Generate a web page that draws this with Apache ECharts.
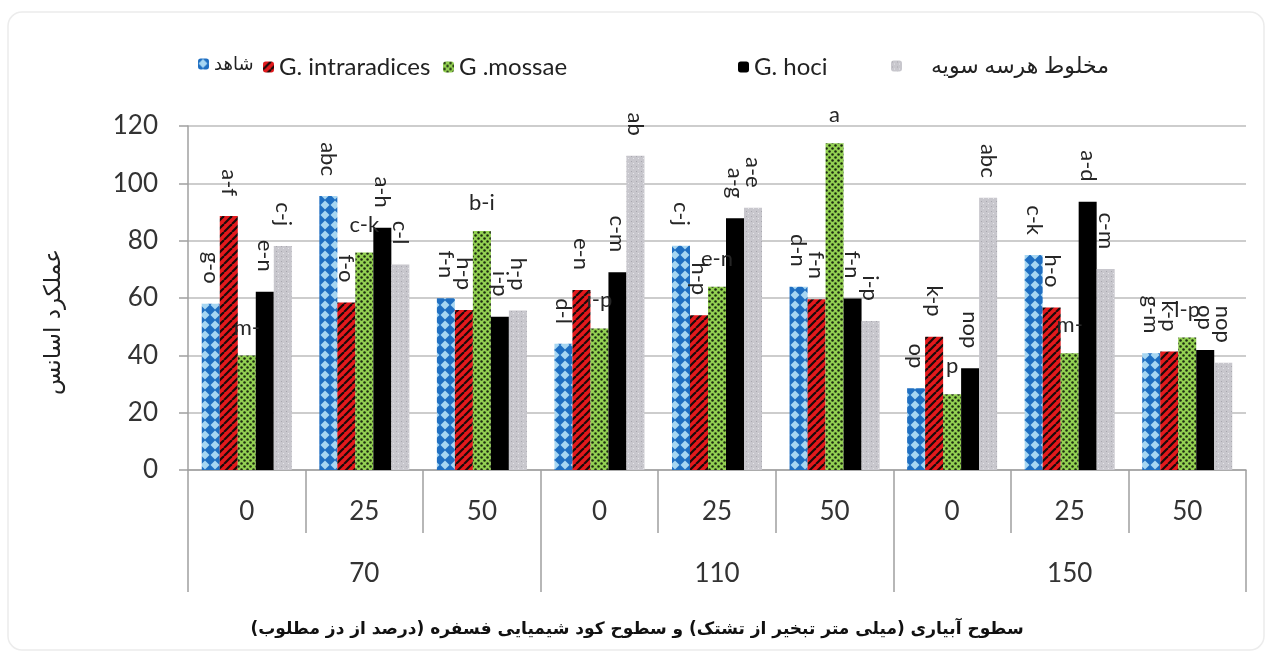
<!DOCTYPE html>
<html lang="fa">
<head>
    <meta charset="UTF-8">
    <title>عملکرد اسانس</title>
    <script src="https://cdn.jsdelivr.net/npm/echarts@6/dist/echarts.min.js"></script>
</head>
<style>
    *{
        margin: 0;
        padding: 0;
    }
    html , body{
        width: 1274px;
        height: 659px;
        background: #fff;
    }
    .container{
        width: 1274px;
        height: 659px;
    }
</style>
<body>
<div class="container"></div>
<script>
    // fosfor levels (inner axis) and irrigation levels (outer axis)
    let categories = ['0', '25', '50', '0', '25', '50', '0', '25', '50'];
    let groups = ['70', '110', '150'];
    let names = ['شاهد', 'G. intraradices', 'G .mossae', 'G. hoci', 'مخلوط هرسه سویه'];

    let control = [58, 95.6, 59.9, 44, 78.2, 63.9, 28.5, 75, 40.7];
    let intraradices = [88.6, 58.4, 55.8, 62.8, 54, 59.6, 46.5, 56.7, 41.3];
    let mossae = [39.9, 75.9, 83.4, 49.4, 63.9, 114, 26.4, 40.7, 46.2];
    let hoci = [62.2, 84.5, 53.5, 69, 87.8, 59.8, 35.5, 93.6, 41.9];
    let mixture = [78.1, 71.7, 55.6, 109.6, 91.5, 52, 95, 70.1, 37.4];

    // letters of mean comparison
    let controlLetters = ['g-o', 'abc', 'f-n', 'd-l', 'c-j', 'd-n', 'op', 'c-k', 'g-m'];
    let intraLetters = ['a-f', 'f-o', 'h-p', 'e-n', 'h-p', 'f-n', 'k-p', 'h-o', 'k-p'];
    let mossLetters = ['m-', 'c-k', 'b-i', 'i-p', 'e-n', 'a', 'p', 'm-', 'l-p'];
    let hociLetters = ['e-n', 'a-h', 'i-p', 'c-m', 'a-g', 'f-n', 'nop', 'a-d', 'op'];
    let mixLetters = ['c-j', 'c-l', 'h-p', 'ab', 'a-e', 'i-p', 'abc', 'c-m', 'nop'];

    let xTitle = 'سطوح آبیاری (میلی متر تبخیر از تشتک) و سطوح کود شیمیایی فسفره (درصد از دز مطلوب)';
    let yTitle = 'عملکرد اسانس';

    function tile(size, draw) {
        let c = document.createElement('canvas');
        c.width = size;
        c.height = size;
        draw(c.getContext('2d'));
        return {image: c, repeat: 'repeat'};
    }

    let bluePattern = tile(10, ctx => {
        ctx.fillStyle = '#1f6fc2';
        ctx.fillRect(0, 0, 10, 10);
        ctx.fillStyle = '#a6d6f2';
        ctx.beginPath();
        ctx.moveTo(5, 0.5); ctx.lineTo(9.5, 5); ctx.lineTo(5, 9.5); ctx.lineTo(0.5, 5);
        ctx.closePath();
        ctx.fill();
    });
    let redPattern = tile(8, ctx => {
        ctx.fillStyle = '#e3191c';
        ctx.fillRect(0, 0, 8, 8);
        ctx.strokeStyle = '#1a0a0a';
        ctx.lineWidth = 2.2;
        for (let k = -8; k <= 16; k += 8) {
            ctx.beginPath();
            ctx.moveTo(k, 8);
            ctx.lineTo(k + 8, 0);
            ctx.stroke();
        }
    });
    let greenPattern = tile(6, ctx => {
        ctx.fillStyle = '#93d152';
        ctx.fillRect(0, 0, 6, 6);
        ctx.fillStyle = '#1c2a10';
        [[1.5, 1.5], [4.5, 4.5]].forEach(p => {
            ctx.beginPath();
            ctx.arc(p[0], p[1], 1.25, 0, Math.PI * 2);
            ctx.fill();
        });
    });
    let grayPattern = tile(5, ctx => {
        ctx.fillStyle = '#c8c7cd';
        ctx.fillRect(0, 0, 5, 5);
        ctx.fillStyle = '#a8a7ae';
        ctx.fillRect(1, 1, 1, 1);
        ctx.fillStyle = '#e6e6ea';
        ctx.fillRect(3, 3, 1, 1);
    });

    let fills = [bluePattern, redPattern, greenPattern, '#000000', grayPattern];
    let values = [control, intraradices, mossae, hoci, mixture];
    let letters = [controlLetters, intraLetters, mossLetters, hociLetters, mixLetters];

    let labelFont = 'Lato, "DejaVu Sans", sans-serif';

    let series = names.map((name, i) => {
        let flat = i === 2;
        return {
            name: name,
            type: 'bar',
            barWidth: 18,
            barGap: '0%',
            itemStyle: {color: fills[i]},
            label: flat ? {
                show: true,
                position: 'top',
                distance: 17,
                fontSize: 22,
                fontFamily: labelFont,
                color: '#262626',
                formatter: p => letters[i][p.dataIndex]
            } : {
                show: true,
                position: 'top',
                distance: 20,
                rotate: -90,
                align: 'right',
                verticalAlign: 'middle',
                fontSize: 22,
                fontFamily: labelFont,
                color: '#262626',
                formatter: p => letters[i][p.dataIndex]
            },
            data: values[i]
        };
    });

    // one legend per item so spacing can follow the original
    let legendLeft = [193, 258, 438, 733, 886];
    let legendSize = [18, 24, 24, 24, 22];
    let legend = names.map((name, i) => ({
        data: [name],
        left: legendLeft[i],
        top: 50,
        itemWidth: 11,
        itemHeight: 11,
        itemGap: 4,
        textStyle: {
            fontSize: legendSize[i],
            fontFamily: labelFont,
            color: '#222',
            padding: i === 4 ? [0, 0, 0, 24] : 0
        }
    }));

    let axisGray = '#a0a0a0';

    let options = {
        backgroundColor: '#fff',
        animation: false,
        title: {
            text: '\u202B' + xTitle + '\u202C',
            left: 'center',
            top: 616,
            textStyle: {
                fontSize: 17,
                fontWeight: 'bold',
                fontFamily: '"DejaVu Sans", sans-serif',
                color: '#111'
            }
        },
        legend,
        grid: {
            left: 188,
            right: 28,
            top: 126,
            bottom: 189
        },
        xAxis: [{
            type: 'category',
            data: categories,
            axisLine: {lineStyle: {color: axisGray, width: 1.5}},
            axisTick: {show: true, interval: 0, length: 63, lineStyle: {color: axisGray, width: 1.5}},
            axisLabel: {
                interval: 0,
                margin: 29,
                fontSize: 26,
                fontFamily: labelFont,
                color: '#333'
            }
        }, {
            type: 'category',
            data: groups,
            position: 'bottom',
            axisLine: {show: false},
            axisTick: {show: true, interval: 0, length: 122, lineStyle: {color: axisGray, width: 1.5}},
            axisLabel: {
                interval: 0,
                margin: 91,
                fontSize: 26,
                fontFamily: labelFont,
                color: '#333'
            }
        }],
        yAxis: {
            type: 'value',
            min: 0,
            max: 120,
            interval: 20,
            name: yTitle,
            nameLocation: 'middle',
            nameRotate: 90,
            nameGap: 122,
            nameTextStyle: {
                fontSize: 23,
                fontFamily: '"DejaVu Sans", sans-serif',
                color: '#222',
                padding: [0, 48, 0, 0]
            },
            axisLine: {show: true, lineStyle: {color: axisGray, width: 1.5}},
            axisTick: {show: true, length: 9, lineStyle: {color: axisGray, width: 1.5}},
            axisLabel: {
                margin: 30,
                fontSize: 26,
                fontFamily: labelFont,
                color: '#333'
            },
            splitLine: {lineStyle: {color: '#bcbcbc', width: 1.5}}
        },
        graphic: [{
            type: 'rect',
            shape: {x: 8, y: 12, width: 1256, height: 638, r: 14},
            style: {fill: 'none', stroke: '#ececec', lineWidth: 1.5},
            silent: true,
            z: -1
        }],
        series
    };

    let mycharts = echarts.init(document.querySelector('.container'));
    mycharts.setOption(options);
</script>
</body>
</html>
